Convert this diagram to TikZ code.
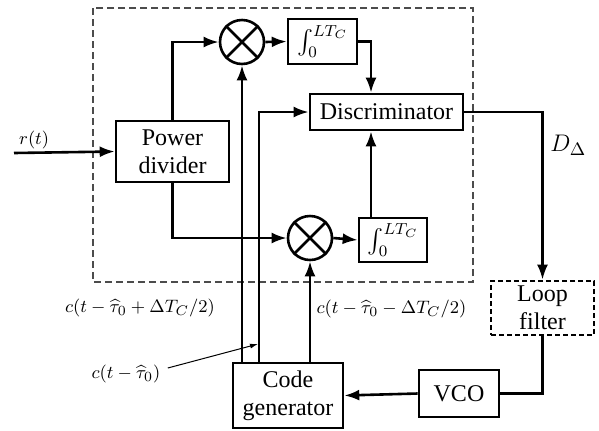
\documentclass[tikz,border=0pt]{standalone}
\usepackage{fontspec}
\setmainfont{Liberation Serif}
\usepackage{amsmath}
\usetikzlibrary{arrows.meta,positioning,calc}

\begin{document}
\begin{tikzpicture}[
  x=0.5pt, y=-0.5pt,
  block/.style={draw, line width=1.3pt, align=center, inner sep=1pt, font=\fontsize{12}{14}\selectfont},
  mixer/.style={draw, circle, line width=1.3pt, minimum size=22pt, inner sep=0pt},
  wire/.style={line width=1.3pt},
  arrow/.style={wire, -{Latex[length=7.5pt,width=5.5pt]}},
  lbl/.style={font=\fontsize{9.4}{11}\selectfont, inner sep=1pt}
]
\useasboundingbox (0,0) rectangle (599,430);
% correlator frame
\draw[black!70, line width=0.6pt, dash pattern=on 3.5pt off 2pt] (93,8) rectangle (473,282);
\node[block, minimum width=56.5pt, minimum height=30.5pt] (pd) at (172.5,151.5) {Power\\divider};
\node[mixer] (mixA) at (242,42) {};
\node[mixer] (mixB) at (310,238) {};
\node[block, minimum width=34.5pt, minimum height=22.5pt] (intA) at (322.5,41.5) {$\int_0^{LT_C}$};
\node[block, minimum width=34pt, minimum height=22pt] (intB) at (393,240) {$\int_0^{LT_C}$};
\node[block, minimum width=76.5pt, minimum height=18pt] (disc) at (386.5,112) {Discriminator};
\node[block, minimum width=55pt, minimum height=32.5pt] (cg) at (288,395.5) {Code\\generator};
\node[block, dash pattern=on 2.5pt off 1.5pt, minimum width=51.5pt, minimum height=27pt] (lf) at (542.5,308) {Loop\\filter};
\node[block, minimum width=40pt, minimum height=23.5pt] (vco) at (459,393.5) {VCO};
\foreach \m in {mixA,mixB}
  \draw[wire] (\m.north west) -- (\m.south east) (\m.north east) -- (\m.south west);
% helper points
\coordinate (rin) at (14,153);
\coordinate (dx) at (371,0);
\coordinate (px) at (259,0);
\coordinate (tip) at (258,344);
% signal path
\draw[arrow] (rin) -- (pd.west) node[pos=0.2, above=0pt, lbl] {$r(t)$};
\draw[arrow] (pd.north) |- (mixA.west);
\draw[arrow] (pd.south) |- (mixB.west);
\draw[arrow] (mixA.east) -- (intA.west);
\draw[arrow] (mixB.east) -- (intB.west);
\draw[arrow] (intA.east) -| (disc.north -| dx);
\draw[arrow] (intB.north -| dx) -- (disc.south -| dx);
\draw[arrow] (disc.east) -| (lf.north) node[pos=0.6, right=0pt, font=\fontsize{12.5}{14}\selectfont] {$D_\Delta$};
\draw[wire] (lf.south) |- (vco.east);
\draw[arrow] (vco.west) -- (cg.east);
% code replicas
\draw[arrow] (cg.north -| mixA.south) -- (mixA.south);
\draw[arrow] (cg.north -| px) |- (disc.west);
\draw[arrow] (cg.north -| mixB.south) -- (mixB.south);
\node[lbl] (early) at (140,308) {$c(t-\widehat{\tau}_0+\Delta T_C/2)$};
\node[lbl] (late) at (391.5,309) {$c(t-\widehat{\tau}_0-\Delta T_C/2)$};
\node[lbl] (prompt) at (126,374) {$c(t-\widehat{\tau}_0)$};
\draw[-{Latex[length=4pt,width=2.5pt]}, line width=0.5pt] (prompt.east) ++(5,-6) -- (tip);
\end{tikzpicture}
\end{document}
